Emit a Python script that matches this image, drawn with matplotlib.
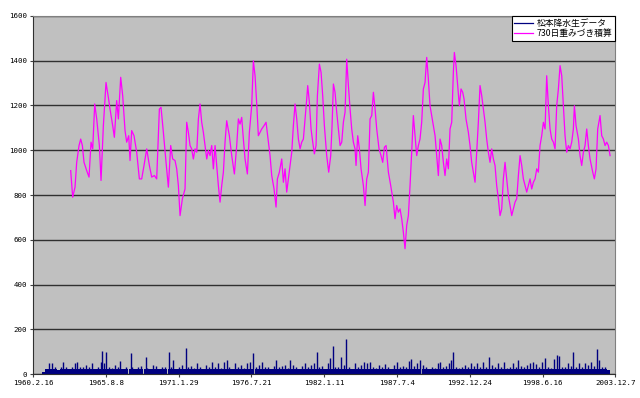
import matplotlib
matplotlib.use("Agg")
import matplotlib.pyplot as plt
import numpy as np

plt.rcParams['font.family'] = ['Noto Sans CJK JP', 'DejaVu Sans']

# tick labels (day index counted from 1960.2.16)
tick_days = [0, 2000, 4000, 6000, 8000, 10000, 12000, 14000, 16000]
tick_labels = ["1960.2.16", "1965.8.8", "1971.1.29", "1976.7.21", "1982.1.11",
               "1987.7.4", "1992.12.24", "1998.6.16", "2003.12.7"]

# 730-day weighted sum
sum_days = [
    1035, 1090, 1154, 1200, 1264, 1310, 1356, 1401, 1475, 1539, 1594, 1640, 1695, 1750,
    1823, 1869, 1933, 2006, 2070, 2116, 2189, 2235, 2299, 2345, 2409, 2464, 2528, 2574,
    2629, 2666, 2711, 2775, 2849, 2922, 2986, 3050, 3124, 3197, 3261, 3334, 3398, 3472,
    3517, 3582, 3655, 3719, 3783, 3838,
    3902, 3948, 3994, 4040, 4104, 4177, 4223, 4269, 4315, 4360, 4406, 4452, 4498, 4544,
    4589, 4635, 4681, 4727, 4773, 4818, 4864, 4910, 4956, 5002, 5047, 5093, 5139, 5185,
    5231, 5276, 5322, 5395, 5460, 5533, 5597, 5643, 5689, 5734, 5780, 5826, 5890, 5945,
    6009, 6055, 6101, 6147, 6192, 6238, 6284, 6348, 6403, 6467, 6513, 6559, 6623, 6678,
    6715, 6769, 6834,
    6880, 6925, 6971, 7017, 7063, 7109, 7154, 7200, 7246, 7292, 7338, 7383, 7429, 7475,
    7521, 7548, 7594, 7640, 7686, 7731, 7777, 7814, 7869, 7915, 7960, 8006, 8070, 8125,
    8180, 8217, 8254, 8299, 8345, 8391, 8437, 8483, 8528, 8574, 8620, 8666, 8712, 8757,
    8803, 8849, 8876, 8922, 8968, 9014, 9078, 9124, 9170, 9215, 9261, 9307, 9353, 9399,
    9444, 9508, 9563, 9609, 9655, 9701, 9765, 9829, 9902,
    9947, 9993, 10039, 10085, 10131, 10176, 10222, 10268, 10314, 10360, 10405, 10451,
    10497, 10543, 10589, 10634, 10680, 10726, 10772, 10818, 10863, 10909, 10955, 11001,
    11047, 11092, 11138, 11184, 11230, 11276, 11321, 11367, 11413, 11459, 11505, 11550,
    11578, 11624, 11669, 11715, 11761, 11807, 11844, 11898, 11963, 12008, 12054, 12100,
    12146, 12192, 12237, 12283, 12329, 12375, 12421, 12466, 12512, 12558, 12604, 12650,
    12695, 12741, 12787, 12833, 12879, 12924,
    12970, 13016, 13062, 13108, 13154, 13199, 13245, 13291, 13337, 13383, 13428, 13474,
    13520, 13566, 13612, 13657, 13703, 13749, 13795, 13841, 13886, 13932, 13978, 14024,
    14070, 14115, 14161, 14207, 14253, 14299, 14344, 14390, 14436, 14482, 14528, 14573,
    14619, 14665, 14711, 14757, 14802, 14848, 14876, 14921, 14986, 15031, 15077, 15123,
    15169, 15215, 15260, 15306, 15380, 15425, 15471, 15517, 15581, 15627, 15673, 15719,
    15764, 15810, 15856,
]
sum_vals = [
    909, 790, 835, 946, 1021, 1050, 1021, 946, 909, 880, 1036, 1006, 1207, 1140,
    1021, 865, 1110, 1303, 1236, 1184, 1110, 1058, 1222, 1140, 1326, 1244, 1088, 1036,
    1065, 954, 1088, 1065, 991, 872, 872, 932, 1006, 932, 880, 887, 872, 1184,
    1192, 1080, 946, 835, 1021, 961,
    954, 917, 842, 708, 783, 827, 1125, 1080, 1021, 1006, 961, 1006, 991, 1140,
    1207, 1125, 1080, 1021, 961, 999, 976, 1021, 917, 1021, 932, 842, 768, 842,
    902, 1036, 1132, 1065, 976, 894, 1021, 1140, 1117, 1147, 1050, 961, 894, 1080,
    1199, 1400, 1333, 1207, 1065, 1080, 1095, 1110, 1125, 1036, 976, 887, 827, 746,
    872, 902, 961,
    857, 917, 813, 872, 932, 991, 1110, 1207, 1140, 1050, 1006, 1036, 1050, 1140,
    1229, 1289, 1214, 1095, 1036, 984, 1021, 1244, 1385, 1348, 1244, 1110, 976, 902,
    976, 1110, 1296, 1259, 1170, 1095, 1021, 1036, 1125, 1170, 1407, 1289, 1184, 1095,
    1036, 1006, 932, 1065, 1006, 917, 842, 753, 872, 902, 1140, 1155, 1259, 1184,
    1095, 1006, 976, 946, 1013, 1021, 902, 842, 768,
    694, 753, 723, 738, 694, 634, 560, 664, 708, 842, 991, 1155,
    1065, 976, 1021, 1050, 1125, 1274, 1303, 1415, 1318, 1199, 1155, 1110,
    1065, 976, 887, 1050, 1021, 946, 887, 961, 917, 1095, 1125, 1348,
    1437, 1378, 1289, 1199, 1274, 1259, 1229, 1140, 1080, 1021, 946, 902,
    857, 991, 1125, 1289, 1244, 1184, 1125, 1050, 991, 946, 1006, 961,
    932, 842, 783, 708, 738, 872,
    946, 872, 798, 753, 708, 738, 768, 783, 887, 976, 932, 872,
    842, 813, 842, 872, 827, 857, 872, 917, 902, 1021, 1065, 1125,
    1095, 1333, 1199, 1095, 1050, 1036, 1006, 1199, 1274, 1378, 1333, 1199,
    1065, 991, 1021, 1006, 1036, 1095, 1199, 1110, 1050, 976, 932, 991,
    1021, 1095, 1021, 961, 902, 872, 917, 1095, 1155, 1065, 1050, 1021,
    1036, 1021, 976,
]

# raw precipitation (peaks per picture column)
rain_days = [
    275, 357, 440, 522, 605, 687, 769, 824, 907, 989, 1072, 1154, 1209, 1292, 1374, 1456,
    1539, 1621, 1704, 1786, 1869, 1905, 1960, 2015, 2098, 2180, 2263, 2345, 2400, 2482,
    2565, 2684, 2730, 2812, 2895, 2977, 3096, 3142, 3224, 3307, 3389, 3472, 3554, 3637,
    3746, 3801, 3847, 3930, 4012, 4095, 4195, 4259, 4342, 4424, 4507, 4589, 4672, 4754,
    4836, 4919, 5001, 5084, 5166, 5249, 5331,
    5386, 5469, 5551, 5634, 5716, 5799, 5881, 5964, 6037, 6128, 6211, 6293, 6376, 6458,
    6541, 6623, 6678, 6760, 6843, 6925, 7008, 7063, 7145, 7228, 7310, 7392, 7475, 7557,
    7640, 7722, 7805, 7869, 7951, 8034, 8116, 8171, 8235, 8308, 8391, 8473, 8556, 8611,
    8675, 8757, 8840, 8922, 9005, 9087, 9170, 9252, 9334, 9417, 9499, 9582, 9664, 9747,
    9829, 9912, 9994, 10077, 10159, 10242, 10324, 10379, 10462, 10544, 10627,
    10717, 10800, 10882, 10965, 11047, 11130, 11185, 11267, 11349, 11432, 11487, 11542,
    11624, 11707, 11789, 11872, 11954, 12036, 12119, 12201, 12284, 12366, 12449, 12531,
    12614, 12696, 12778, 12861, 12943, 13026, 13108, 13191, 13273, 13337, 13420, 13502,
    13585, 13667, 13749, 13832, 13914, 13997, 14079, 14162, 14244, 14327, 14391, 14446,
    14528, 14611, 14693, 14775, 14830, 14913, 14995, 15078, 15160, 15243, 15325, 15408,
    15490, 15554, 15636, 15719, 15801,
]
rain_vals = [
    10, 21, 48, 51, 33, 18, 33, 55, 30, 21, 30, 48, 54, 33, 30, 42,
    30, 48, 21, 30, 55, 104, 48, 98, 33, 25, 40, 33, 60, 21,
    33, 92, 33, 21, 30, 36, 75, 25, 21, 40, 36, 24, 30, 33,
    97, 30, 63, 21, 33, 40, 118, 30, 36, 25, 48, 33, 21, 40,
    30, 55, 33, 48, 27, 54, 63,
    33, 21, 48, 30, 42, 25, 48, 55, 92, 30, 39, 55, 30, 33,
    21, 36, 63, 30, 36, 42, 25, 63, 40, 30, 24, 36, 48, 30,
    40, 48, 97, 30, 36, 24, 48, 70, 127, 33, 30, 78, 40, 155,
    30, 21, 48, 30, 40, 55, 48, 55, 33, 25, 40, 30, 45, 33,
    21, 42, 54, 30, 36, 30, 60, 66, 36, 48, 63,
    40, 30, 21, 33, 25, 48, 55, 33, 36, 48, 63, 98,
    33, 25, 30, 40, 33, 48, 36, 48, 30, 55, 33, 78,
    39, 30, 48, 33, 55, 25, 30, 48, 33, 63, 36, 30,
    42, 48, 55, 45, 33, 55, 70, 30, 25, 66, 85, 81,
    33, 30, 48, 36, 98, 33, 48, 30, 48, 42, 55, 36,
    113, 63, 33, 30, 18,
]

fig = plt.figure(figsize=(6.4, 3.98), dpi=100)
ax = fig.add_axes([0.0516, 0.0603, 0.9098, 0.8995])
ax.set_facecolor("#c0c0c0")

# thin spikes over a darker low band, like the dense daily record
ax.vlines(rain_days, 0, rain_vals, color="#000080", linewidth=1.0, zorder=2)
ax.bar(rain_days, np.minimum(rain_vals, 22), width=82, color="#000080",
       linewidth=0, zorder=2)
ax.plot(sum_days, sum_vals, color="#ff00ff", linewidth=0.9, zorder=3)

ax.set_xlim(0, 16000)
ax.set_ylim(0, 1600)
ax.set_yticks(range(0, 1601, 200))
ax.set_xticks(tick_days)
ax.set_xticklabels(tick_labels)
ax.yaxis.grid(True, color="#303030", linewidth=1.0)
ax.set_axisbelow(True)
ax.tick_params(labelsize=5.4, length=2, width=0.8, color="#404040", pad=2.5)
for lab in ax.get_xticklabels() + ax.get_yticklabels():
    lab.set_family(["DejaVu Sans Mono"])

for side in ["top", "right"]:
    ax.spines[side].set_color("#808080")
for side in ["left", "bottom"]:
    ax.spines[side].set_color("#303030")

h1 = plt.Line2D([], [], color="#000080", linewidth=0.9)
h2 = plt.Line2D([], [], color="#ff00ff", linewidth=0.9)
leg = ax.legend([h1, h2], ["松本降水生データ", "730日重みづき積算"],
                loc="upper right", fontsize=6.3, frameon=True, fancybox=False,
                borderaxespad=0.0, handlelength=2.2, handletextpad=0.4,
                borderpad=0.3, labelspacing=0.2)
leg.get_frame().set_edgecolor("black")
leg.get_frame().set_linewidth(0.8)
leg.get_frame().set_facecolor("white")
leg.get_frame().set_alpha(1)

fig.savefig("out.png", dpi=100)
